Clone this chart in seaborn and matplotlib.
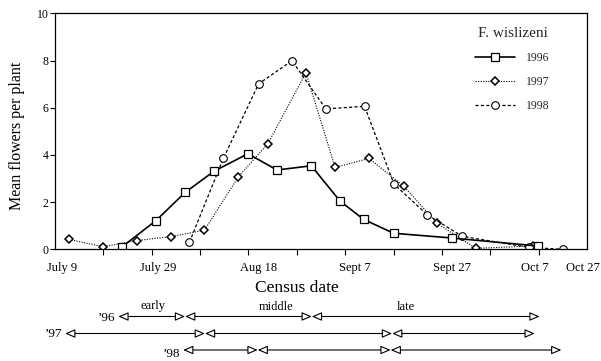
import matplotlib
matplotlib.use("Agg")
import matplotlib.pyplot as plt
import seaborn as sns
from matplotlib.ticker import FixedLocator

# Census day = days after July 8 (axis runs from day 0 to day 110)
day_1996 = [13.9, 20.9, 26.9, 32.9, 39.9, 45.9, 53.0, 58.9, 63.8, 70.0, 82.0, 99.8]
flowers_1996 = [0.11, 1.22, 2.41, 3.31, 4.05, 3.36, 3.54, 2.05, 1.27, 0.68, 0.48, 0.14]

day_1997 = [2.9, 9.9, 16.9, 24.0, 30.9, 37.9, 44.0, 51.9, 57.9, 64.9, 72.1, 79.0, 87.0, 98.8]
flowers_1997 = [0.42, 0.11, 0.37, 0.54, 0.81, 3.07, 4.47, 7.49, 3.47, 3.85, 2.68, 1.10, 0.04, 0.14]

day_1998 = [27.8, 34.8, 42.1, 49.0, 56.0, 64.0, 70.1, 77.0, 84.2, 98.0, 105.0]
flowers_1998 = [0.30, 3.85, 7.01, 7.99, 5.95, 6.06, 2.76, 1.46, 0.55, 0.08, 0.0]

tick_labels = ["July 9", "July 29", "Aug 18", "Sept 7", "Sept 27", "Oct 7", "Oct 27"]
tick_label_days = [1.4, 21.3, 42.0, 62.0, 82.0, 99.2, 109.2]
tick_mark_days = [10, 20, 30, 40, 50, 60, 70, 80, 90, 100]
y_ticks = [0, 2, 4, 6, 8, 10]

# flowering phase boundaries (early | middle | late)
phase_names = ["early", "middle", "late"]
phase_name_days = [20.2, 45.7, 72.5]
row_labels = ["\u201996", "\u201997", "\u201998"]
bounds_1996 = [13.1, 26.9, 53.1, 100.2]
bounds_1997 = [2.1, 31.0, 69.7, 99.2]
bounds_1998 = [26.5, 41.9, 69.4, 104.7]

sns.set_theme(style="ticks")
plt.rcParams["font.family"] = ["Liberation Serif", "DejaVu Serif"]

W, H = 601, 361
fig = plt.figure(figsize=(W / 100, H / 100), dpi=100)
ax_left, ax_right, ax_top, ax_bot = 55, 587, 13.3, 249.3
ax = fig.add_axes([ax_left / W, 1 - ax_bot / H, (ax_right - ax_left) / W, (ax_bot - ax_top) / H])

sns.lineplot(x=day_1997, y=flowers_1997, ax=ax, color="black", lw=0.8,
             linestyle=(0, (1, 1.3)), marker="D", markersize=4,
             markerfacecolor="white", markeredgecolor="black", markeredgewidth=1.1,
             label="1997")
sns.lineplot(x=day_1998, y=flowers_1998, ax=ax, color="black", lw=0.9,
             linestyle=(0, (2.5, 1.8)), marker="o", markersize=5.5,
             markerfacecolor="white", markeredgecolor="black", markeredgewidth=0.8,
             label="1998")
sns.lineplot(x=day_1996, y=flowers_1996, ax=ax, color="black", lw=1.2,
             linestyle="-", marker="s", markersize=6,
             markerfacecolor="white", markeredgecolor="black", markeredgewidth=0.9,
             label="1996")

ax.set_xlim(0, 110)
ax.set_ylim(0, 10)
for s in ax.spines.values():
    s.set_color("black")
    s.set_linewidth(0.9)

ax.set_xticks(tick_label_days, labels=tick_labels)
ax.xaxis.set_minor_locator(FixedLocator(tick_mark_days))
ax.tick_params(axis="x", which="major", length=0, pad=9, labelsize=9, colors="black")
ax.tick_params(axis="x", which="minor", length=4, width=0.8, direction="out", color="black")
ax.set_yticks(y_ticks)
ax.tick_params(axis="y", which="major", length=3.6, width=0.8, pad=1, labelsize=8.5,
               direction="out", colors="black")

ax.set_xlabel("Census date", fontsize=12.5, color="black")
ax.xaxis.set_label_coords((297 - ax_left) / (ax_right - ax_left), -0.128)
ax.set_ylabel("Mean flowers per plant", fontsize=11.5, color="black")
ax.yaxis.set_label_coords((25 - ax_left) / (ax_right - ax_left), 0.48)

handles, labels = ax.get_legend_handles_labels()
order = [labels.index(l) for l in ["1996", "1997", "1998"]]
leg = ax.legend([handles[i] for i in order], [labels[i] for i in order],
                title="F. wislizeni", frameon=False, loc="upper left",
                bbox_to_anchor=(0.79, 0.94), fontsize=8.5, title_fontsize=11,
                handlelength=3.4, handletextpad=0.9, labelspacing=1.0,
                borderpad=0, borderaxespad=0)
leg._legend_box.align = "center"

# phase arrows below the axis
trans = ax.get_xaxis_transform()
def frac(py):
    return (ax_bot - py) / (ax_bot - ax_top)

rows = [(bounds_1996, 316.5, 318.0), (bounds_1997, 333.5, 334.0), (bounds_1998, 350.0, 354.0)]
for (bounds, py, ty), lab in zip(rows, row_labels):
    for a, b in zip(bounds[:-1], bounds[1:]):
        ax.annotate("", xy=(b, frac(py)), xytext=(a, frac(py)), xycoords=trans,
                    textcoords=trans, annotation_clip=False,
                    arrowprops=dict(arrowstyle="<|-|>,head_length=0.6,head_width=0.26",
                                    shrinkA=0, shrinkB=0, fc="white", ec="black",
                                    lw=0.8, mutation_scale=10))
    ax.text(bounds[0] - 0.6, frac(ty), lab, transform=trans, ha="right", va="center",
            fontsize=9.5, color="black", clip_on=False)

for name, d in zip(phase_names, phase_name_days):
    ax.text(d, frac(306.5), name, transform=trans, ha="center", va="center",
            fontsize=9, color="black", clip_on=False)

fig.savefig("out.png", dpi=100)
